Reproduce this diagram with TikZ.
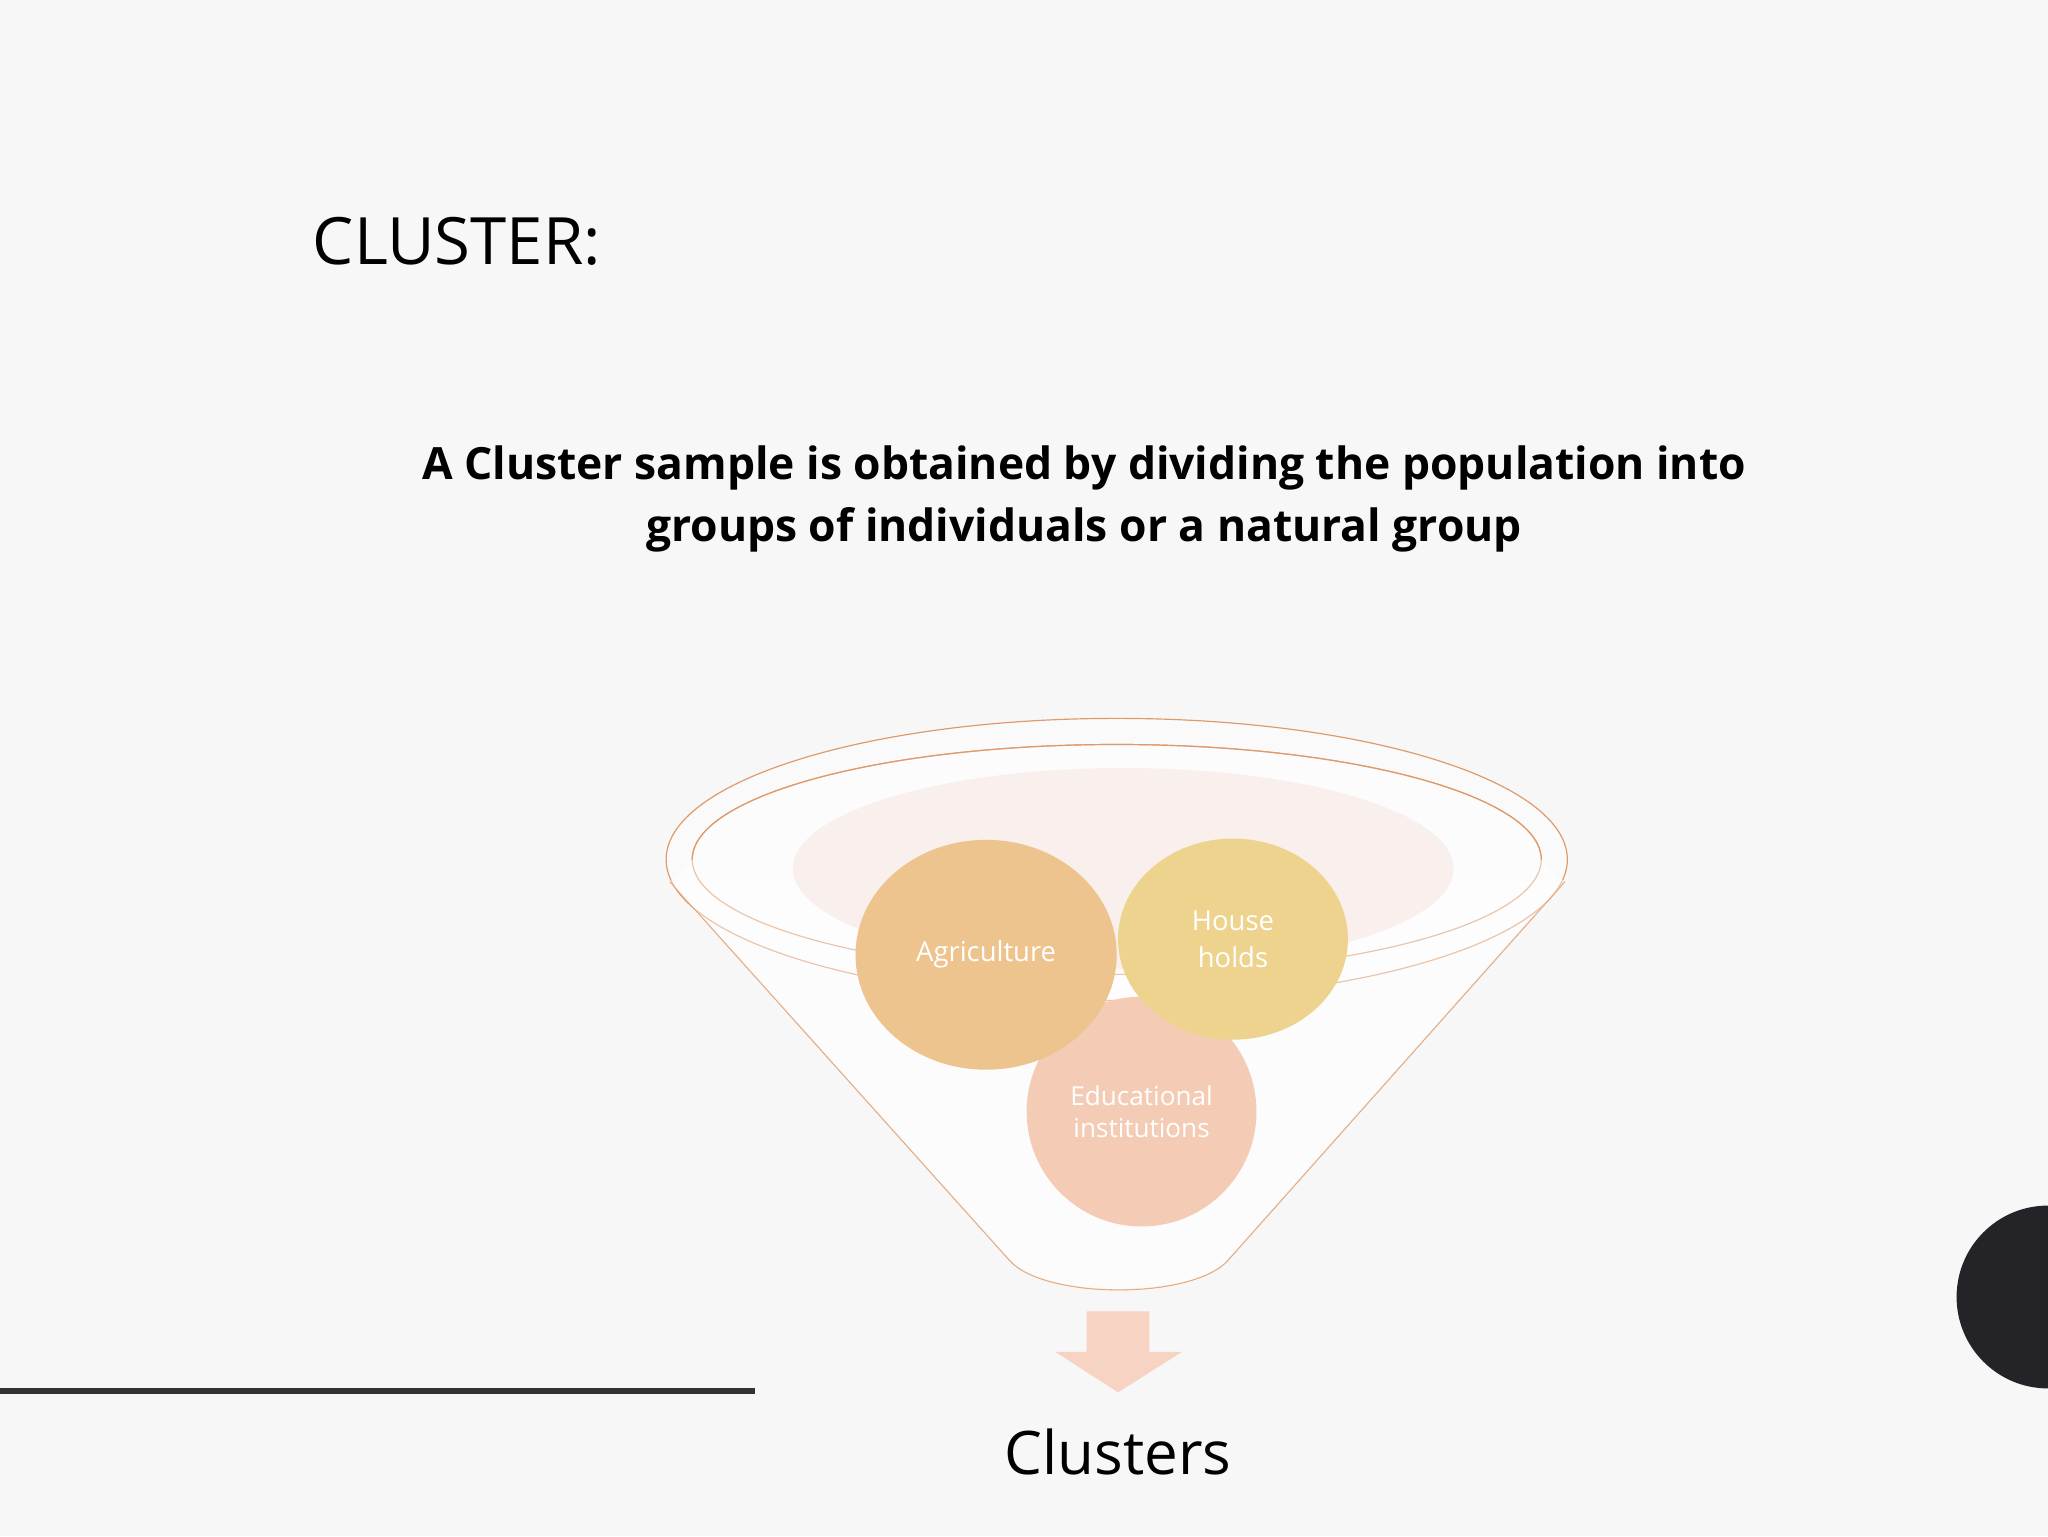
\documentclass[tikz,border=0pt]{standalone}
\usepackage{fontspec}
\setmainfont{Open Sans}
\definecolor{bg}{HTML}{F7F7F7}
\definecolor{fstroke}{HTML}{DE9A6A}
\definecolor{agri}{HTML}{E29A3E}
\definecolor{house}{HTML}{E0B43C}
\definecolor{edu}{HTML}{EDA882}
\definecolor{pinkell}{HTML}{F5E4E0}
\definecolor{arr}{HTML}{F7D3C4}
\definecolor{lineg}{HTML}{333333}
\definecolor{dark}{HTML}{242328}
\begin{document}
\begin{tikzpicture}[x=1pt,y=-1pt,
  ctext/.style={text=white,font=\fontsize{21}{25}\selectfont,align=center},
  rim/.style={draw=fstroke,line width=0.9pt}]
\fill[bg] (0,0) rectangle (1568,1176);
\useasboundingbox (0,0) rectangle (1568,1176);
\node[anchor=west,font=\fontsize{50}{60}\selectfont] (title) at (236,185) {CLUSTER:};
\node[align=center,font=\fontsize{34}{48}\selectfont\bfseries] (sub) at (830,382)
 {A Cluster sample is obtained by dividing the population into\\groups of individuals or a natural group};
% funnel body
\fill[white,opacity=0.5] (513,675) -- (773,965) .. controls (800,995) and (913,995) .. (940,965) -- (1198,675) -- cycle;
\draw[rim] (513,675) -- (773,965) .. controls (800,995) and (913,995) .. (940,965) -- (1198,675);
\fill[white,opacity=0.4] (855,658) ellipse[x radius=345,y radius=108];
\draw[rim] (855,658) ellipse[x radius=345,y radius=108];
\draw[rim] (855,658) ellipse[x radius=325,y radius=88];
\fill[pinkell] (860,665) ellipse[x radius=253,y radius=77];
% circles
\fill[edu] (874,851) ellipse[x radius=88,y radius=88];
\fill[agri] (755,731) ellipse[x radius=100,y radius=88];
\fill[house] (944,719) ellipse[x radius=88,y radius=77];
% front glass overlay
\fill[white,opacity=0.42] (513,675) -- (773,965) .. controls (800,995) and (913,995) .. (940,965) -- (1198,675) -- (1180,658) arc[start angle=0,end angle=-180,x radius=325,y radius=88] -- cycle;
\draw[rim] (1180,658) arc[start angle=0,end angle=-180,x radius=325,y radius=88];
\node[ctext] (a) at (755,731) {Agriculture};
\node[ctext,align=center,font=\fontsize{21}{28}\selectfont] (h) at (944,719) {House\\holds};
\node[ctext,align=center,font=\fontsize{20}{25}\selectfont] (e) at (874,851) {Educational\\institutions};
% arrow
\fill[arr] (832,1004) -- (880,1004) -- (880,1035) -- (905,1035) -- (856,1066) -- (808,1035) -- (832,1035) -- cycle;
\node[font=\fontsize{46}{55}\selectfont] (cl) at (856,1112) {Clusters};
\draw[line width=4pt,draw=lineg] (0,1065) -- (578,1065);
\fill[dark] (1568,993) circle[radius=70];
\end{tikzpicture}
\end{document}
